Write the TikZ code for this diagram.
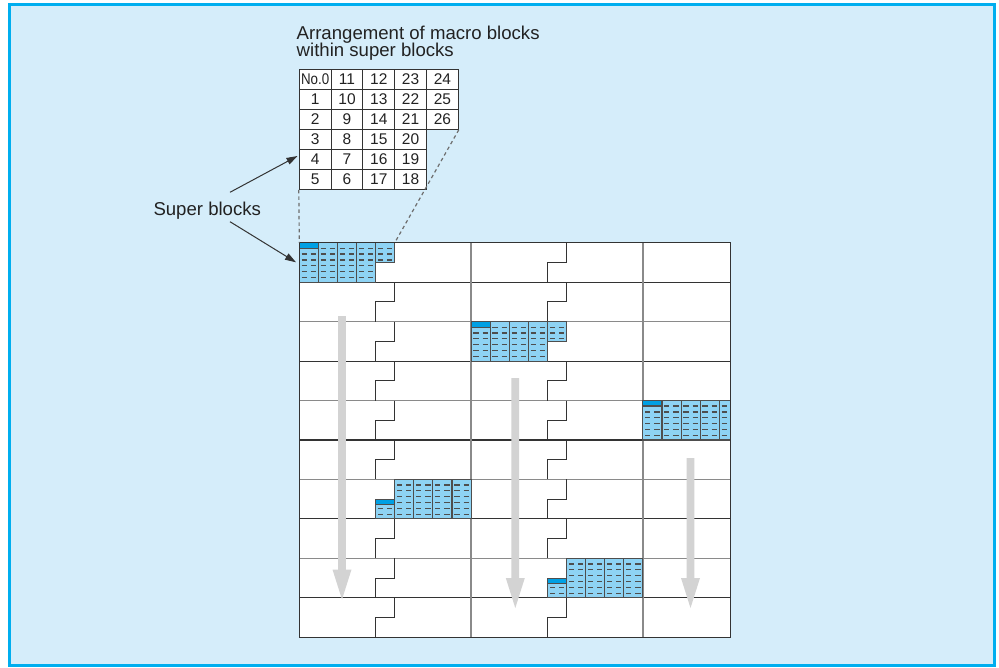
\documentclass[tikz,border=0pt]{standalone}
\usepackage{fontspec}
\usepackage{graphicx}
\setmainfont{Liberation Sans}
\usetikzlibrary{arrows.meta}
\definecolor{bgblue}{HTML}{D5EDFA}
\definecolor{frameblue}{HTML}{00AEEF}
\definecolor{cellblue}{HTML}{8ED3F4}
\definecolor{barblue}{HTML}{00A0E4}
\definecolor{darkline}{HTML}{333333}
\definecolor{grayline}{HTML}{8A8A8A}
\definecolor{dashgray}{HTML}{4E4E4E}
\definecolor{arrowgray}{HTML}{D3D3D3}
\definecolor{textdark}{HTML}{222222}
\def\cw{19.09}
\def\rh{39.46}
\newcommand\mbDash[2]{%
  \draw[mbdash] ({#1+2.3},{#2}) -- ({#1+7.5},{#2}) ({#1+11.5},{#2}) -- ({#1+16.7},{#2});}
\newcommand\mbFull[2]{%
  \filldraw[mbcell] (#1,#2) rectangle ++(\cw,\rh);
  \foreach \k in {0,...,5}{\mbDash{#1}{#2+\rh*(0.14+0.148*\k)}}}
\newcommand\mbTop[2]{%
  \filldraw[mbcell] (#1,#2) rectangle ++(\cw,{\rh/2});
  \foreach \k in {0,...,2}{\mbDash{#1}{#2+\rh*(0.14+0.148*\k)}}}
\newcommand\mbBot[2]{%
  \filldraw[mbcell] (#1,{#2+\rh/2}) rectangle ++(\cw,{\rh/2});
  \foreach \k in {3,...,5}{\mbDash{#1}{#2+\rh*(0.14+0.148*\k)}}}
\newcommand\mbBar[2]{%
  \filldraw[mbbar] (#1,#2) rectangle ++(\cw,5.5);}
\newcommand\gArrow[3]{%
  \fill[arrowgray] ({#1-3.85},#2) -- ({#1+3.85},#2) -- ({#1+3.85},{#3-30}) -- ({#1+9.5},{#3-30})
    -- (#1,#3) -- ({#1-9.5},{#3-30}) -- ({#1-3.85},{#3-30}) -- cycle;}
\newcommand\tcell[3]{%
  \node[tcell] (t#1#2) at ({299.3+31.8*#2+15.9},{69.3+20*#1+10}) {#3};}
\begin{document}
\begin{tikzpicture}[x=1pt,y=-1pt,
  mbcell/.style={fill=cellblue,draw=dashgray,line width=1.1pt},
  mbbar/.style={fill=barblue,draw=dashgray,line width=1.1pt},
  mbdash/.style={draw=dashgray,line width=1.2pt},
  tcell/.style={draw=darkline,fill=white,line width=1pt,minimum width=31.8pt,minimum height=20pt,
    inner sep=0pt,text=textdark,font=\fontsize{15.5}{15.5}\selectfont},
  lbl/.style={anchor=base west,inner sep=0pt,text=textdark,font=\fontsize{18.6}{18.6}\selectfont},
  ptr/.style={draw=darkline,line width=1pt,-{Triangle[length=11pt,width=7pt]}},
  dline/.style={draw=grayline!80!black,line width=1.2pt,dash pattern=on 3.5pt off 3pt},
  stair/.style={draw=darkline,line width=1pt}]
\useasboundingbox (0,0) rectangle (999,667);
\fill[white] (0,0) rectangle (999,667);
\filldraw[fill=bgblue,draw=frameblue,line width=3pt] (9.5,4.5) rectangle (994.5,665.5);
% labels
\node[lbl] (title1) at (296.5,39.3) {Arrangement of macro blocks};
\node[lbl] (title2) at (296.5,56) {within super blocks};
\node[lbl] (sb) at (153.3,215) {Super blocks};
% table
\tcell{0}{0}{\scalebox{0.86}[1]{No.0}}\tcell{0}{1}{11}\tcell{0}{2}{12}\tcell{0}{3}{23}\tcell{0}{4}{24}
\tcell{1}{0}{1}\tcell{1}{1}{10}\tcell{1}{2}{13}\tcell{1}{3}{22}\tcell{1}{4}{25}
\tcell{2}{0}{2}\tcell{2}{1}{9}\tcell{2}{2}{14}\tcell{2}{3}{21}\tcell{2}{4}{26}
\tcell{3}{0}{3}\tcell{3}{1}{8}\tcell{3}{2}{15}\tcell{3}{3}{20}
\tcell{4}{0}{4}\tcell{4}{1}{7}\tcell{4}{2}{16}\tcell{4}{3}{19}
\tcell{5}{0}{5}\tcell{5}{1}{6}\tcell{5}{2}{17}\tcell{5}{3}{18}
% grid
\coordinate (g0) at (299.3,242.7);
\coordinate (g1) at (394.75,242.7);
\coordinate (g2) at (730.3,637.3);
\fill[white] (g0) rectangle (g2);
\foreach \k in {1,...,9}{
  \pgfmathsetmacro\yy{242.7+\rh*\k}
  \ifodd\k
    \draw[darkline,line width=1.1pt] (299.3,\yy) -- (730.3,\yy);
  \else
    \draw[grayline,line width=1.5pt] (299.3,\yy) -- (730.3,\yy);
  \fi}
\draw[grayline,line width=1.6pt] (471.1,242.7) -- (471.1,637.3);
\draw[grayline,line width=1.6pt] (642.9,242.7) -- (642.9,637.3);
\foreach \s in {299.3,471.1}{
  \foreach \k in {0,...,9}{
    \pgfmathsetmacro\ya{242.7+\rh*\k}
    \pgfmathsetmacro\yb{\ya+\rh/2}
    \pgfmathsetmacro\yc{\ya+\rh}
    \pgfmathsetmacro\xa{\s+5*\cw}
    \pgfmathsetmacro\xb{\s+4*\cw}
    \draw[stair] (\xa,\ya) -- (\xa,\yb) -- (\xb,\yb) -- (\xb,\yc);}}
% gray flow arrows
\gArrow{342}{316}{599.5}
\gArrow{515.3}{378}{608}
\gArrow{690.5}{458}{608}
% shaded super blocks
\foreach \i in {0,...,3}{\mbFull{299.3+\i*\cw}{242.7}}
\mbTop{299.3+4*\cw}{242.7}
\mbBar{299.3}{242.7}
\foreach \i in {0,...,3}{\mbFull{471.1+\i*\cw}{321.62}}
\mbTop{471.1+4*\cw}{321.62}
\mbBar{471.1}{321.62}
\begin{scope}
  \clip (g0) rectangle (g2);
  \foreach \i in {0,...,4}{\mbFull{642.9+\i*\cw}{400.54}}
  \mbBar{642.9}{400.54}
\end{scope}
\mbBot{299.3+4*\cw}{479.46}
\mbBar{299.3+4*\cw}{499.19}
\foreach \i in {5,...,8}{\mbFull{299.3+\i*\cw}{479.46}}
\mbBot{471.1+4*\cw}{558.38}
\mbBar{471.1+4*\cw}{578.11}
\foreach \i in {5,...,8}{\mbFull{471.1+\i*\cw}{558.38}}
\draw[darkline,line width=1.5pt] (g0) rectangle (g2);
% dashed projection lines
\draw[dline] (t50.south west) -- (g0);
\draw[dline] (t24.south east) -- (g1);
% pointers from label
\coordinate (sbA) at (230,192.3);
\coordinate (sbB) at (230,221.7);
\coordinate (tipA) at (297.5,156);
\coordinate (tipB) at (296,262.3);
\draw[ptr] (sbA) -- (tipA);
\draw[ptr] (sbB) -- (tipB);
\end{tikzpicture}
\end{document}
